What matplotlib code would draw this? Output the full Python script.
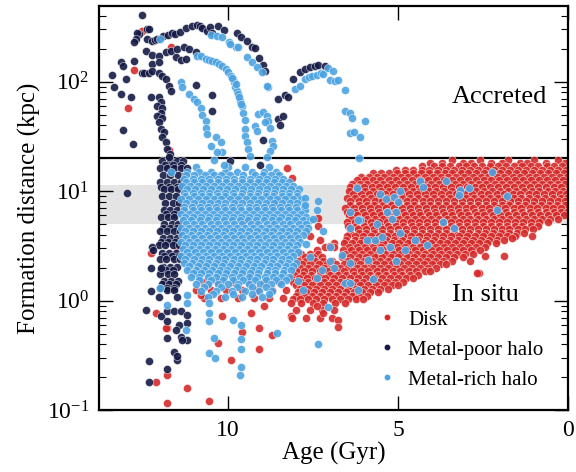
import numpy as np
import matplotlib
matplotlib.use("Agg")
import matplotlib.pyplot as plt
from matplotlib.lines import Line2D

plt.rcParams["font.family"] = "serif"
plt.rcParams["font.serif"] = ["Liberation Serif", "DejaVu Serif"]
plt.rcParams["mathtext.fontset"] = "stix"

# ==========================================
# --- data (age in Gyr, distance in kpc) ---
# ==========================================
labels = ["Disk", "Metal-poor halo", "Metal-rich halo"]
colors = ["#d62a2a", "#151a45", "#4ca3e2"]

# disk : dense cloud, one row = (distance, ages)
disk_rows = [
    (19.2, [3.4, 2.6, 1.75, 1.0, 0.3]),
    (18.0, [4.05, 3.7, 3.1, 2.85, 2.25, 1.95, 1.4, 1.2, 0.65, 0.1]),
    (16.9, [4.3, 3.95, 3.72, 3.48, 3.22, 3.0, 2.76, 2.52, 2.28, 2.06, 1.82, 1.58, 1.35, 1.1, 0.88, 0.63, 0.4, 0.16]),
    (15.7, [5.05, 4.8, 4.55, 4.3, 4.08, 3.82, 3.6, 3.35, 3.12, 2.88, 2.64, 2.4, 2.18, 1.94, 1.7, 1.47, 1.22, 1.0, 0.76, 0.52, 0.3, 0.07]),
    (14.6, [5.75, 5.5, 5.28, 5.03, 4.8, 4.57, 4.33, 4.1, 3.86, 3.63, 3.4, 3.16, 2.93, 2.7, 2.46, 2.22, 2.0, 1.75, 1.52, 1.28, 1.05, 0.82, 0.58, 0.35, 0.12]),
    (13.6, [6.1, 5.86, 5.63, 5.4, 5.16, 4.92, 4.7, 4.45, 4.22, 3.98, 3.75, 3.52, 3.28, 3.05, 2.8, 2.57, 2.34, 2.1, 1.87, 1.63, 1.4, 1.16, 0.93, 0.7, 0.46, 0.22, 0.02]),
    (12.6, [6.22, 5.98, 5.75, 5.52, 5.28, 5.05, 4.82, 4.58, 4.35, 4.12, 3.88, 3.65, 3.42, 3.18, 2.95, 2.72, 2.48, 2.25, 2.02, 1.78, 1.55, 1.32, 1.08, 0.85, 0.62, 0.38, 0.15]),
    (11.7, [6.35, 6.12, 5.9, 5.66, 5.43, 5.2, 4.96, 4.73, 4.5, 4.26, 4.03, 3.8, 3.56, 3.33, 3.1, 2.86, 2.63, 2.4, 2.16, 1.93, 1.7, 1.46, 1.23, 1.0, 0.76, 0.53, 0.3, 0.1]),
    (10.9, [6.42, 6.22, 6.0, 5.78, 5.55, 5.32, 5.08, 4.85, 4.62, 4.38, 4.15, 3.92, 3.68, 3.45, 3.22, 2.98, 2.75, 2.52, 2.28, 2.05, 1.82, 1.58, 1.35, 1.12, 0.88, 0.65, 0.42, 0.2]),
    (10.1, [6.45, 6.2, 5.97, 5.74, 5.5, 5.27, 5.04, 4.8, 4.57, 4.34, 4.1, 3.87, 3.64, 3.4, 3.17, 2.94, 2.7, 2.47, 2.24, 2.0, 1.77, 1.54, 1.3, 1.07, 0.84, 0.6, 0.37, 0.14]),
    (9.4, [6.33, 6.1, 5.86, 5.63, 5.39, 5.16, 4.92, 4.69, 4.45, 4.22, 3.98, 3.75, 3.51, 3.28, 3.04, 2.81, 2.57, 2.34, 2.1, 1.87, 1.63, 1.4, 1.16, 0.93, 0.69, 0.46, 0.22, 0.05]),
    (8.7, [6.5, 6.28, 6.04, 5.8, 5.57, 5.34, 5.1, 4.87, 4.64, 4.4, 4.17, 3.94, 3.7, 3.47, 3.24, 3.0, 2.77, 2.54, 2.3, 2.07, 1.84, 1.6, 1.37, 1.14, 0.9, 0.67, 0.44, 0.2, 0.03]),
    (8.1, [6.4, 6.16, 5.93, 5.69, 5.46, 5.22, 4.99, 4.75, 4.52, 4.28, 4.05, 3.81, 3.58, 3.34, 3.11, 2.87, 2.64, 2.4, 2.17, 1.93, 1.7, 1.46, 1.23, 0.99, 0.76, 0.52, 0.29, 0.08]),
    (7.5, [6.4, 6.15, 5.92, 5.7, 5.45, 5.22, 4.98, 4.75, 4.52, 4.28, 4.05, 3.82, 3.58, 3.35, 3.12, 2.88, 2.65, 2.42, 2.18, 1.95, 1.72, 1.48, 1.25, 1.02, 0.78, 0.55, 0.32, 0.09]),
    (7.0, [6.55, 6.3, 6.07, 5.83, 5.6, 5.36, 5.13, 4.89, 4.66, 4.42, 4.19, 3.95, 3.72, 3.48, 3.25, 3.01, 2.78, 2.54, 2.31, 2.07, 1.84, 1.6, 1.37, 1.13, 0.9, 0.66, 0.43, 0.19]),
    (6.5, [6.5, 6.26, 6.02, 5.79, 5.55, 5.32, 5.09, 4.85, 4.62, 4.39, 4.15, 3.92, 3.69, 3.45, 3.22, 2.99, 2.75, 2.52, 2.29, 2.05, 1.82, 1.59, 1.35, 1.12, 0.89, 0.65, 0.42, 0.19, 0.02]),
    (6.0, [6.45, 6.22, 5.98, 5.75, 5.51, 5.28, 5.04, 4.81, 4.57, 4.34, 4.1, 3.87, 3.63, 3.4, 3.16, 2.93, 2.69, 2.46, 2.22, 1.99, 1.75, 1.52, 1.28, 1.05, 0.81, 0.58, 0.34, 0.12]),
    (5.6, [6.38, 6.14, 5.9, 5.67, 5.44, 5.2, 4.97, 4.74, 4.5, 4.27, 4.04, 3.8, 3.57, 3.34, 3.1, 2.87, 2.64, 2.4, 2.17, 1.94, 1.7, 1.47, 1.24, 1.0, 0.77, 0.54, 0.3]),
    (5.2, [6.5, 6.27, 6.03, 5.8, 5.56, 5.33, 5.09, 4.86, 4.62, 4.39, 4.15, 3.92, 3.68, 3.45, 3.21, 2.98, 2.74, 2.51, 2.27, 2.04, 1.8, 1.57, 1.33, 1.1, 0.86, 0.6]),
    (4.84, [6.48, 6.24, 6.0, 5.77, 5.54, 5.3, 5.07, 4.84, 4.6, 4.37, 4.14, 3.9, 3.67, 3.44, 3.2, 2.97, 2.74, 2.5, 2.27, 2.04, 1.8, 1.57, 1.34, 1.1, 0.87]),
    (4.5, [6.42, 6.18, 5.95, 5.71, 5.48, 5.24, 5.01, 4.77, 4.54, 4.3, 4.07, 3.83, 3.6, 3.36, 3.13, 2.89, 2.66, 2.42, 2.19, 1.95, 1.72, 1.48, 1.25, 1.02]),
    (4.18, [6.4, 6.16, 5.93, 5.7, 5.46, 5.23, 5.0, 4.76, 4.53, 4.3, 4.06, 3.83, 3.6, 3.36, 3.13, 2.9, 2.66, 2.43, 2.2, 1.96, 1.73, 1.5, 1.28]),
    (3.9, [6.5, 6.26, 6.03, 5.79, 5.56, 5.32, 5.09, 4.85, 4.62, 4.38, 4.15, 3.91, 3.68, 3.44, 3.21, 2.97, 2.74, 2.5, 2.27, 2.03, 1.8, 1.55]),
    (3.6, [6.52, 6.28, 6.05, 5.82, 5.58, 5.35, 5.12, 4.88, 4.65, 4.42, 4.18, 3.95, 3.72, 3.48, 3.25, 3.02, 2.78, 2.55, 2.32, 2.08, 1.88]),
    (3.35, [6.9, 6.6, 6.37, 6.13, 5.9, 5.66, 5.43, 5.19, 4.96, 4.72, 4.49, 4.25, 4.02, 3.78, 3.55, 3.31, 3.08, 2.84, 2.61, 2.37, 2.12]),
    (3.11, [7.15, 6.9, 6.45, 6.2, 5.97, 5.74, 5.5, 5.27, 5.04, 4.8, 4.57, 4.34, 4.1, 3.87, 3.64, 3.4, 3.17, 2.94, 2.7, 2.45]),
    (2.9, [7.4, 6.62, 6.38, 6.15, 5.91, 5.68, 5.44, 5.21, 4.97, 4.74, 4.5, 4.27, 4.03, 3.8, 3.56, 3.33, 3.09, 2.86, 2.6]),
    (2.69, [7.85, 7.6, 7.35, 6.55, 6.3, 6.07, 5.84, 5.6, 5.37, 5.14, 4.9, 4.67, 4.44, 4.2, 3.97, 3.74, 3.5, 3.27, 3.04, 2.8]),
    (2.5, [7.75, 7.5, 7.25, 6.65, 6.4, 6.16, 5.93, 5.69, 5.46, 5.22, 4.99, 4.75, 4.52, 4.28, 4.05, 3.81, 3.58, 3.34, 3.1]),
    (2.32, [7.95, 7.7, 7.45, 7.2, 6.95, 6.48, 6.24, 6.0, 5.77, 5.54, 5.3, 5.07, 4.84, 4.6, 4.37, 4.14, 3.9, 3.67, 3.42]),
    (2.15, [7.82, 7.58, 7.33, 7.08, 6.82, 6.58, 6.35, 6.11, 5.88, 5.64, 5.41, 5.17, 4.94, 4.7, 4.47, 4.23, 4.0, 3.76, 3.6]),
    (2.0, [7.9, 7.65, 7.42, 7.18, 6.94, 6.7, 6.46, 6.22, 5.99, 5.75, 5.52, 5.29, 5.05, 4.82, 4.59, 4.35, 4.12, 3.88]),
    (1.86, [8.0, 7.77, 7.53, 7.3, 7.06, 6.82, 6.58, 6.34, 6.1, 5.87, 5.63, 5.4, 5.16, 4.93, 4.69, 4.46, 4.22, 4.05]),
    (1.73, [8.05, 7.8, 7.55, 7.3, 7.0, 6.76, 6.52, 6.29, 6.05, 5.82, 5.59, 5.35, 5.12, 4.89, 4.65, 4.42]),
    (1.6, [8.15, 7.92, 7.68, 7.43, 7.15, 6.88, 6.64, 6.4, 6.17, 5.93, 5.7, 5.46, 5.23, 4.99, 4.76, 4.55]),
    (1.49, [8.1, 7.86, 7.65, 7.42, 7.18, 6.95, 6.72, 6.48, 6.25, 6.02, 5.78, 5.55, 5.32, 5.08, 4.85]),
    (1.39, [8.0, 7.76, 7.53, 7.29, 7.06, 6.82, 6.59, 6.35, 6.12, 5.88, 5.65, 5.41, 5.18, 5.0]),
    (1.29, [7.88, 7.64, 7.41, 7.18, 6.94, 6.71, 6.48, 6.24, 6.01, 5.78, 5.54, 5.3]),
    (1.2, [7.95, 7.7, 7.47, 7.24, 7.0, 6.77, 6.54, 6.3, 6.07, 5.84, 5.6]),
    (1.11, [8.0, 7.77, 7.54, 7.3, 7.07, 6.84, 6.6, 6.37, 6.14, 5.9]),
    (1.03, [8.1, 7.88, 7.65, 7.42, 7.18, 6.95, 6.72, 6.48, 6.25, 6.02]),
    (0.96, [8.15, 7.85, 7.5, 7.2, 6.85, 6.55]),
    (0.83, [8.0, 7.6, 7.25, 6.9]),
    (0.70, [7.7, 7.3, 6.95]),
    (1.48, [10.75, 10.3, 9.85, 9.4, 8.95, 8.5]),
    (1.25, [10.95, 10.5, 10.05, 9.6, 9.15, 8.7, 8.3]),
    (1.06, [10.7, 10.2, 9.7, 9.25, 8.8, 8.4]),
]
disk_pts = [
    (12.77, 129), (12.94, 57), (11.69, 207), (12.54, 292), (11.74, 24), (8.28, 16.3), (8.13, 13.2),
    (12.13, 0.77), (11.79, 0.56), (11.79, 0.21), (12.13, 0.18), (11.2, 0.16), (11.79, 0.116),
    (10.56, 0.12), (10.29, 0.41), (9.93, 0.29), (9.6, 0.52), (9.09, 0.56), (9.09, 0.36), (8.7, 0.49),
    (10.19, 0.72), (9.34, 0.77), (8.95, 0.89), (10.81, 1.13), (10.61, 1.4), (8.16, 0.72),
    (12.28, 2.7), (11.5, 3.1), (11.76, 1.47), (11.83, 0.56), (10.22, 2.37), (9.55, 5.3), (8.6, 8.0),
    (2.62, 1.79), (1.88, 2.58), (1.07, 3.86), (2.89, 2.29), (2.45, 2.54), (2.69, 1.79), (1.66, 3.73),
    (8.13, 0.69), (7.2, 0.77), (6.76, 0.67), (6.76, 0.58), (7.4, 0.89),
    (7.35, 5.7), (7.35, 4.76), (7.01, 3.13), (7.3, 3.6), (7.6, 3.9),
]

# metal-poor halo
poor_rows = [
    (18.8, [11.95, 11.72, 11.5, 11.32]),
    (17.2, [11.85, 11.62, 11.4]),
    (16.3, [12.0, 11.8, 11.58, 11.38, 11.22]),
    (14.0, [11.92, 11.7, 11.48, 11.28]),
    (12.1, [12.02, 11.8, 11.6, 11.4]),
    (11.0, [11.98, 11.75, 11.52]),
    (10.4, [11.9, 11.68, 11.47]),
    (9.0, [11.95, 11.75, 11.55]),
    (7.8, [11.85, 11.62, 11.45]),
    (6.7, [11.9, 11.7, 11.5]),
    (6.2, [11.82, 11.6]),
    (5.8, [11.98, 11.78, 11.58]),
    (5.0, [11.88, 11.66, 11.47]),
    (4.6, [11.92, 11.7, 11.52]),
    (4.3, [12.0, 11.8, 11.6, 11.42]),
    (3.7, [11.92, 11.7, 11.5]),
    (3.45, [11.98, 11.78, 11.56]),
    (3.2, [12.05, 11.85, 11.62, 11.45]),
    (2.75, [11.95, 11.75, 11.55]),
    (2.55, [11.88, 11.66, 11.46]),
    (2.38, [12.02, 11.82, 11.6, 11.42]),
    (2.05, [11.92, 11.72, 11.5]),
    (1.9, [11.98, 11.82, 11.62]),
    (1.76, [12.0, 11.78, 11.58]),
    (1.52, [11.9, 11.68, 11.48]),
    (1.42, [11.95, 11.75, 11.55]),
    (1.31, [12.0, 11.8, 11.58]),
]
poor_pts = [
    (12.54, 405), (12.4, 302), (12.33, 300), (12.62, 274), (12.69, 279), (12.72, 245), (12.77, 232),
    (12.38, 245), (12.23, 237), (12.15, 242), (12.09, 245), (11.91, 263), (11.76, 268), (11.66, 279),
    (11.56, 274), (11.42, 287), (11.24, 310), (11.07, 325), (10.92, 328), (10.83, 322), (10.77, 310),
    (10.62, 292), (10.54, 318), (10.48, 280), (10.3, 320), (10.12, 298), (9.75, 278), (9.62, 258),
    (9.46, 233), (9.31, 207), (9.21, 204), (9.09, 166), (8.97, 142), (8.92, 126),
    (12.43, 192), (12.24, 177), (12.04, 173), (11.84, 185), (11.69, 192), (11.5, 199), (11.3, 206),
    (11.15, 199), (10.96, 185), (12.23, 145), (12.04, 150), (11.55, 168), (11.4, 157), (11.25, 161),
    (12.53, 121), (12.48, 121), (12.33, 121), (12.23, 126), (12.04, 121), (11.94, 113), (11.84, 106),
    (11.74, 92), (11.69, 83),
    (12.04, 72), (11.99, 65), (12.09, 60), (11.94, 58), (11.99, 52), (12.09, 49), (11.94, 47),
    (12.04, 42.5), (11.99, 37), (11.89, 34.5), (11.94, 31), (11.84, 28), (11.79, 24.3), (11.7, 22),
    (11.74, 20.4),
    (13.41, 115), (13.16, 150), (13.11, 140), (12.77, 155), (13.01, 105), (13.36, 89), (13.16, 77),
    (12.87, 73), (12.28, 73), (13.11, 36), (12.79, 27), (10.47, 76), (10.96, 94), (10.47, 54),
    (8.53, 46), (8.38, 49), (8.48, 40), (8.97, 29.5), (8.53, 70), (8.33, 75.5), (8.23, 72),
    (8.09, 106), (7.89, 122), (7.74, 131), (7.59, 135), (7.45, 140), (7.35, 142), (7.15, 138),
    (9.06, 17.5), (9.95, 18.7), (9.12, 12.3),
    (12.97, 9.6), (12.23, 3.1), (12.2, 2.9), (12.28, 2.0), (11.99, 2.0), (12.28, 1.22), (12.43, 0.82),
    (12.04, 1.09), (11.99, 0.72), (11.79, 1.26), (11.79, 0.80), (11.79, 0.65), (11.59, 1.26),
    (11.5, 1.09), (11.59, 0.80), (11.4, 0.80), (11.2, 0.745), (11.2, 0.63), (11.45, 0.60),
    (11.54, 0.54), (11.79, 0.46), (11.4, 0.47), (11.2, 0.44), (11.37, 0.44), (11.59, 0.34),
    (11.5, 0.29), (11.51, 0.31), (12.33, 0.28), (11.79, 0.24), (12.33, 0.18),
]

# metal-rich halo
rich_rows = [
    (16.5, [10.95, 10.0, 9.5, 8.8]),
    (15.1, [11.2, 10.85, 10.5, 10.1, 9.75, 9.3, 8.95, 8.6]),
    (14.0, [11.25, 11.0, 10.68, 10.42, 10.2, 9.95, 9.55, 9.22, 8.98, 8.74, 8.5]),
    (13.0, [11.3, 11.05, 10.8, 10.55, 10.3, 10.07, 9.82, 9.6, 9.35, 9.1, 8.86, 8.62, 8.4]),
    (12.1, [11.25, 11.0, 10.77, 10.53, 10.3, 10.06, 9.83, 9.59, 9.36, 9.12, 8.89, 8.65, 8.42, 8.2]),
    (11.2, [11.35, 11.12, 10.89, 10.65, 10.42, 10.18, 9.95, 9.71, 9.48, 9.24, 9.01, 8.77, 8.54, 8.3, 8.1]),
    (10.4, [11.22, 10.98, 10.75, 10.5, 10.28, 10.04, 9.8, 9.57, 9.33, 9.1, 8.86, 8.63, 8.4, 8.16, 7.93]),
    (9.7, [11.3, 11.05, 10.8, 10.56, 10.32, 10.08, 9.85, 9.6, 9.37, 9.13, 8.9, 8.66, 8.43, 8.2, 7.98]),
    (9.0, [11.27, 11.02, 10.78, 10.55, 10.31, 10.08, 9.84, 9.61, 9.37, 9.14, 8.9, 8.67, 8.43, 8.2, 7.96]),
    (8.4, [11.38, 11.14, 10.9, 10.66, 10.43, 10.2, 9.96, 9.72, 9.49, 9.25, 9.02, 8.78, 8.55, 8.32, 8.08, 7.86]),
    (7.8, [11.25, 11.02, 10.78, 10.54, 10.31, 10.08, 9.84, 9.6, 9.37, 9.13, 8.9, 8.66, 8.43, 8.19, 7.96]),
    (7.2, [11.3, 11.06, 10.82, 10.58, 10.35, 10.11, 9.88, 9.64, 9.4, 9.17, 8.94, 8.7, 8.47, 8.23, 8.0, 7.78]),
    (6.7, [11.3, 11.05, 10.8, 10.57, 10.33, 10.1, 9.86, 9.62, 9.39, 9.15, 8.92, 8.68, 8.45, 8.21, 7.98, 7.75]),
    (6.2, [11.4, 11.16, 10.92, 10.68, 10.45, 10.22, 9.98, 9.74, 9.5, 9.27, 9.04, 8.8, 8.57, 8.33, 8.1, 7.87]),
    (5.8, [11.28, 11.04, 10.8, 10.56, 10.33, 10.09, 9.86, 9.62, 9.38, 9.15, 8.91, 8.68, 8.44, 8.21, 7.97, 7.72]),
    (5.4, [11.32, 11.08, 10.84, 10.6, 10.37, 10.13, 9.9, 9.66, 9.42, 9.19, 8.96, 8.72, 8.49, 8.25, 8.02, 7.8, 7.6]),
    (5.0, [11.25, 11.0, 10.76, 10.52, 10.29, 10.05, 9.82, 9.58, 9.34, 9.11, 8.87, 8.64, 8.4, 8.17, 7.93, 7.7]),
    (4.6, [11.4, 11.15, 10.92, 10.68, 10.44, 10.21, 9.97, 9.74, 9.5, 9.26, 9.03, 8.8, 8.56, 8.33, 8.09, 7.86, 7.65]),
    (4.3, [11.27, 11.03, 10.79, 10.55, 10.32, 10.08, 9.85, 9.61, 9.38, 9.14, 8.9, 8.67, 8.43, 8.2, 7.96, 7.72]),
    (4.0, [11.35, 11.1, 10.86, 10.62, 10.39, 10.15, 9.92, 9.68, 9.44, 9.21, 8.98, 8.74, 8.51, 8.27, 8.04, 7.8]),
    (3.7, [11.24, 11.0, 10.76, 10.53, 10.29, 10.06, 9.82, 9.59, 9.35, 9.12, 8.88, 8.65, 8.41, 8.18, 7.94]),
    (3.45, [11.4, 11.16, 10.93, 10.69, 10.46, 10.22, 9.99, 9.75, 9.52, 9.28, 9.05, 8.81, 8.58, 8.34, 8.11, 7.88]),
    (3.2, [11.28, 11.04, 10.8, 10.57, 10.33, 10.1, 9.86, 9.63, 9.39, 9.16, 8.92, 8.69, 8.45, 8.22, 7.98]),
    (2.98, [11.32, 11.08, 10.85, 10.61, 10.38, 10.14, 9.91, 9.67, 9.44, 9.2, 8.97, 8.73, 8.5, 8.26, 8.03]),
    (2.77, [11.22, 10.98, 10.74, 10.51, 10.27, 10.04, 9.8, 9.57, 9.33, 9.1, 8.86, 8.63, 8.39, 8.16, 7.94]),
    (2.58, [11.38, 11.14, 10.9, 10.66, 10.43, 10.19, 9.96, 9.72, 9.49, 9.25, 9.02, 8.78, 8.55, 8.31, 8.08]),
    (2.4, [11.26, 11.02, 10.78, 10.55, 10.31, 10.08, 9.84, 9.61, 9.37, 9.14, 8.9, 8.67, 8.43, 8.2]),
    (2.22, [11.3, 11.06, 10.82, 10.59, 10.35, 10.12, 9.88, 9.65, 9.41, 9.18, 8.94, 8.71, 8.47, 8.24, 8.0]),
    (2.06, [11.15, 10.9, 10.66, 10.43, 10.19, 9.96, 9.72, 9.49, 9.25, 9.02, 8.78, 8.55, 8.31, 8.1]),
    (1.92, [11.2, 10.96, 10.72, 10.49, 10.25, 10.02, 9.78, 9.55, 9.31, 9.08, 8.84, 8.61, 8.37, 8.14]),
    (1.78, [11.05, 10.8, 10.55, 10.31, 10.07, 9.83, 9.59, 9.35, 9.11, 8.87, 8.63, 8.39]),
    (1.66, [11.1, 10.85, 10.6, 10.36, 10.12, 9.88, 9.64, 9.4, 9.16, 8.92, 8.68, 8.44, 8.2]),
    (1.54, [10.85, 10.5, 10.15, 9.85, 9.55, 9.2, 8.9, 8.6, 8.3]),
    (1.43, [10.95, 10.6, 10.3, 10.0, 9.7, 9.4, 9.05, 8.75, 8.45]),
    (1.33, [10.7, 10.2, 9.75, 9.3, 8.9]),
    (1.23, [10.8, 10.35, 9.9, 9.5, 9.1, 8.7]),
    (1.15, [10.45, 9.85, 9.3, 8.8]),
    (1.07, [10.6, 10.1, 9.6, 9.0]),
]
rich_pts = [
    (12.02, 245), (10.52, 268), (10.32, 263), (10.17, 254), (9.98, 229), (9.78, 207), (9.95, 220),
    (9.7, 207), (9.46, 168), (9.3, 152), (9.15, 135), (9.01, 122), (8.82, 89), (8.87, 92),
    (10.91, 173), (10.8, 170), (10.66, 161), (10.56, 159), (10.47, 155), (10.36, 151), (10.27, 145),
    (10.18, 138), (10.07, 130), (10.0, 122), (9.93, 113), (9.87, 106), (9.83, 99), (9.8, 90),
    (9.75, 83), (9.71, 78), (9.65, 67), (9.6, 60), (9.56, 52), (9.51, 45), (9.51, 37), (9.51, 32),
    (9.46, 28), (9.41, 24.3), (9.36, 20.8), (9.9, 108), (9.78, 95), (9.68, 72), (9.62, 62),
    (11.4, 99), (11.35, 89), (11.15, 77), (11.01, 70), (10.91, 65), (10.81, 58), (10.76, 50),
    (10.66, 44), (10.66, 38), (10.61, 33), (10.37, 31), (10.22, 28), (10.17, 22.6), (10.32, 22.6),
    (10.5, 26),
    (9.12, 50.5), (8.97, 52.5), (8.87, 49), (8.82, 44), (8.92, 42.5), (8.77, 38), (9.21, 39.6),
    (9.16, 35.8), (8.72, 29), (8.67, 26), (8.77, 23.5), (8.87, 20.6),
    (8.04, 86), (7.89, 92), (7.74, 106), (7.62, 110), (7.54, 113), (7.4, 115), (7.27, 121),
    (7.2, 118), (7.06, 133), (6.91, 124), (7.0, 104), (6.85, 102), (6.76, 104), (6.56, 84),
    (6.56, 54), (6.42, 52), (6.37, 47), (6.42, 34), (6.3, 35), (6.12, 31), (5.98, 44), (6.15, 20.3),
    (11.68, 15), (10.42, 19.4), (10.12, 17.5),
    (12.0, 1.31), (11.79, 0.92), (11.23, 0.54), (10.42, 0.46), (10.56, 0.33), (10.39, 0.30),
    (9.63, 0.6), (9.63, 0.45), (9.63, 0.36), (9.63, 0.25), (9.65, 0.21), (9.85, 0.67), (8.56, 0.51),
    (10.56, 0.77), (10.56, 0.65), (10.56, 0.95), (11.2, 1.13), (11.2, 0.95),
    (7.74, 8.7), (7.74, 7.5), (7.35, 8.1), (7.38, 6.8), (7.5, 5.6), (7.2, 4.3),
    (7.94, 1.5), (7.79, 1.26), (7.4, 1.61), (7.25, 1.92), (7.01, 3.1), (7.01, 2.29), (7.06, 0.88),
    (7.35, 0.40), (6.56, 1.45), (6.42, 1.45), (6.17, 1.26), (6.42, 2.2), (6.65, 2.6), (6.9, 2.0),
    (7.6, 2.5), (7.7, 3.3),
    (2.23, 14.9), (4.36, 12.3), (4.26, 10.9), (3.59, 12.5), (3.18, 10.3), (2.9, 10.7), (3.2, 9.3),
    (1.78, 9.1), (2.09, 6.7), (5.54, 9.4), (5.36, 8.5), (5.12, 8.9), (4.95, 10.1), (5.01, 7.9),
    (5.34, 6.4), (5.07, 6.4), (5.18, 5.6), (5.63, 5.0), (6.12, 5.5), (3.69, 5.2), (3.35, 4.6),
    (4.93, 4.15), (5.91, 3.6), (5.68, 3.6), (5.48, 3.8), (4.51, 3.6), (4.16, 3.2), (5.24, 3.1),
    (5.54, 2.9), (4.8, 2.9), (5.88, 2.37), (5.07, 2.3), (5.73, 1.58), (6.42, 4.6), (6.17, 5.5),
    (6.42, 6.5), (6.22, 10.6),
]

ACCRETED_LIMIT = 20.0     # kpc
BAND = (5.0, 11.3)        # kpc


def collect(rows, pts):
    ages, dists = [], []
    for dist, row_ages in rows:
        ages += row_ages
        dists += [dist] * len(row_ages)
    ages += [p[0] for p in pts]
    dists += [p[1] for p in pts]
    return np.array(ages), np.array(dists)


groups = [collect(disk_rows, disk_pts),
          collect(poor_rows, poor_pts),
          collect(rich_rows, rich_pts)]

# ==========================================
# --- figure ---
# ==========================================
fig = plt.figure(figsize=(5.76, 4.72), dpi=100)
ax = fig.add_axes([0.172, 0.131, 0.814, 0.856])

ax.axhspan(*BAND, color="#e4e4e4", lw=0, zorder=0)
ax.axhline(ACCRETED_LIMIT, color="black", lw=1.6, zorder=0.5)

for (age, dist), c in zip(groups, colors):
    ax.scatter(age, dist, s=34, c=c, edgecolors="white", linewidths=0.35,
               alpha=0.9, zorder=2)

ax.set_yscale("log")
ax.set_xlim(13.8, 0)
ax.set_ylim(0.1, 490)
ax.set_xticks([10, 5, 0])
ax.set_xticklabels(["10", "5", "0"])

ax.tick_params(which="both", direction="in", top=True, right=True, labelsize=17)
ax.tick_params(which="major", length=10, width=1.0, pad=7)
ax.tick_params(which="minor", length=5, width=0.8)
for sp in ax.spines.values():
    sp.set_linewidth(1.6)

ax.set_xlabel("Age (Gyr)", fontsize=18, labelpad=1)
ax.set_ylabel("Formation distance (kpc)", fontsize=18, labelpad=4)

ax.text(0.955, 0.775, "Accreted", transform=ax.transAxes, ha="right",
        va="center", fontsize=19)
ax.text(0.823, 0.285, "In situ", transform=ax.transAxes, ha="center",
        va="center", fontsize=19)

handles = [Line2D([], [], ls="none", marker="o", ms=4.5, color=c, mec="white",
                  mew=0.3) for c in colors]
ax.legend(handles, labels, loc="lower right", bbox_to_anchor=(0.965, 0.03),
          borderaxespad=0, frameon=False, fontsize=15, handlelength=0.6,
          handletextpad=0.7, labelspacing=0.5)

fig.savefig("out.png", dpi=100)
